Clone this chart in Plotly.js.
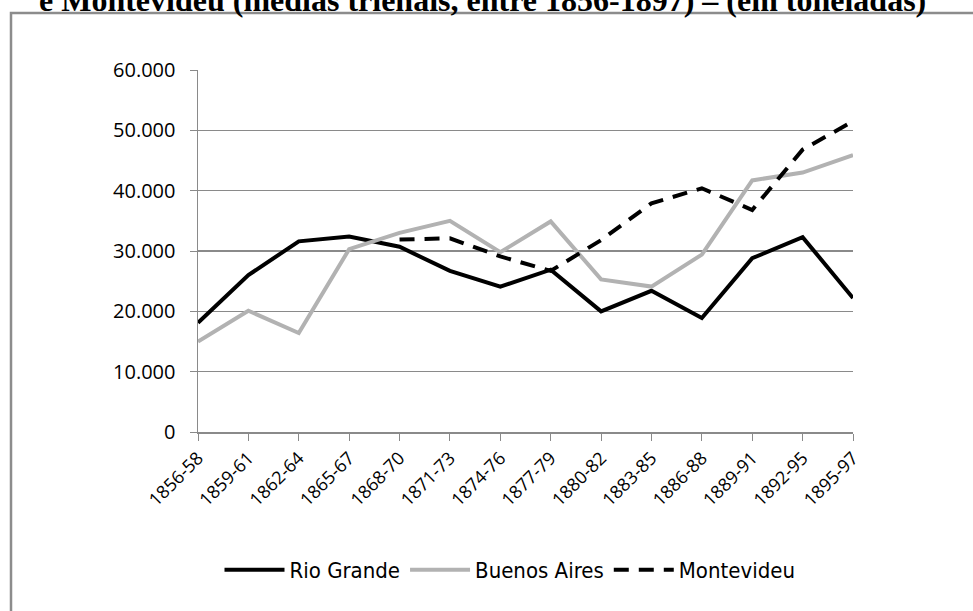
<!DOCTYPE html>
<html>
<head>
<meta charset="utf-8">
<script src="https://cdn.plot.ly/plotly-3.0.1.min.js"></script>
<style>
html,body{margin:0;padding:0;background:#fff;}
#chart{width:973px;height:611px;}
</style>
</head>
<body>
<div id="chart"></div>
<script>
var categories = ["1856-58","1859-61","1862-64","1865-67","1868-70","1871-73","1874-76","1877-79","1880-82","1883-85","1886-88","1889-91","1892-95","1895-97"];
var rioGrande   = [18100, 26000, 31600, 32400, 30700, 26700, 24100, 26900, 20000, 23400, 18900, 28800, 32300, 22200];
var buenosAires = [15000, 20100, 16400, 30300, 33000, 35000, 29800, 34900, 25300, 24100, 29400, 41700, 43000, 45900];
var montevideu  = [null, null, null, null, 31900, 32100, 29100, 26700, 31800, 37900, 40400, 36800, 46800, 51500];
var seriesNames = ["Rio Grande", "Buenos Aires", "Montevideu"];
var yTicks = [0, 10000, 20000, 30000, 40000, 50000, 60000];
var titleText = "e Montevideu (médias trienais, entre 1856-1897) – (em toneladas)";

var W = 973, H = 611;
var M = {l: 198, r: 120, t: 70, b: 179};
var pw = W - M.l - M.r, ph = H - M.t - M.b;
function px(x){ return (x - M.l) / pw; }
function py(y){ return (H - M.b - y) / ph; }

var yTickFont = {family: "Open Sans, DejaVu Sans, sans-serif", size: 20, color: "#000"};
var xTickFont = {family: "Open Sans, DejaVu Sans, sans-serif", size: 18, color: "#000"};

var traces = [
  {x: categories, y: rioGrande, name: seriesNames[0], type: "scatter", mode: "lines",
   line: {color: "#000000", width: 4}},
  {x: categories, y: buenosAires, name: seriesNames[1], type: "scatter", mode: "lines",
   line: {color: "#b2b2b2", width: 4}},
  {x: categories, y: montevideu, name: seriesNames[2], type: "scatter", mode: "lines",
   line: {color: "#000000", width: 4, dash: "15px,10px"}}
];

var layout = {
  width: W, height: H,
  margin: M,
  paper_bgcolor: "#ffffff", plot_bgcolor: "#ffffff",
  separators: ",.",
  showlegend: true,
  legend: {orientation: "h", x: px(510), xanchor: "center", y: py(570), yanchor: "middle",
           font: {family: "DejaVu Sans Condensed, Open Sans, sans-serif", size: 22, color: "#000"},
           itemwidth: 60, tracegroupgap: 0, bgcolor: "rgba(0,0,0,0)"},
  xaxis: {type: "category", range: [0, categories.length - 1], tickvals: categories, ticktext: categories,
          tickangle: -45, tickfont: xTickFont, ticks: "outside", ticklen: 7, tickcolor: "#8a8a8a",
          showline: true, linecolor: "#8a8a8a", linewidth: 1.5, showgrid: false, zeroline: false,
          fixedrange: true},
  yaxis: {range: [0, 60000], tickvals: yTicks, tickformat: ",.0f", tickfont: yTickFont,
          ticks: "outside", ticklen: 7, tickcolor: "#8a8a8a", ticklabelstandoff: 10,
          showline: true, linecolor: "#8a8a8a", linewidth: 1.5,
          showgrid: true, gridcolor: "#8a8a8a", gridwidth: 1.5, zeroline: false, fixedrange: true},
  shapes: [
    {type: "rect", xref: "paper", yref: "paper", x0: px(11), x1: px(985), y0: py(625), y1: py(13),
     line: {color: "#8c8c8c", width: 2.5}, fillcolor: "rgba(0,0,0,0)", layer: "below"}
  ],
  annotations: [
    {text: titleText, xref: "paper", yref: "paper", x: px(482), y: py(0), xanchor: "center", yanchor: "middle",
     showarrow: false, font: {family: "Liberation Serif, Times New Roman, serif", size: 32, color: "#000", weight: "bold"}}
  ]
};

Plotly.newPlot("chart", traces, layout, {displayModeBar: false, staticPlot: true});
</script>
</body>
</html>
